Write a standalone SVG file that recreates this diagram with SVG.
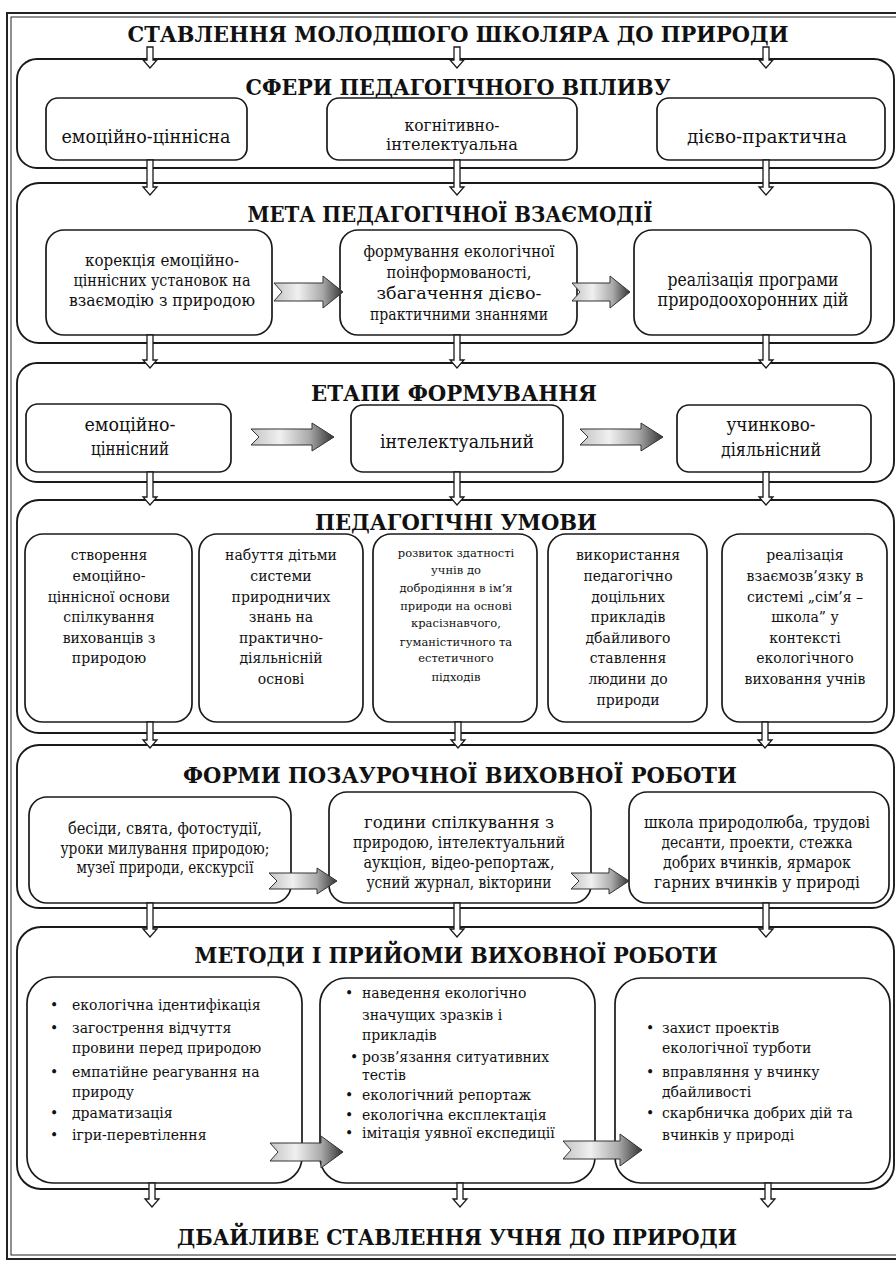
<svg xmlns="http://www.w3.org/2000/svg" width="896" height="1261" viewBox="0 0 896 1261" font-family="'DejaVu Serif', serif">
<defs>
<style>
.frame{fill:none;stroke:#222;}
.row{fill:none;stroke:#1a1a1a;stroke-width:1.9;}
.box{fill:#fff;stroke:#1a1a1a;stroke-width:1.7;}
.h{font-weight:bold;fill:#111;text-anchor:middle;font-size:23px;}
.t{fill:#111;text-anchor:middle;}
.c{fill:#111;text-anchor:middle;}
.l{fill:#111;font-size:14px;}
.va{fill:#fff;stroke:#1a1a1a;stroke-width:1.3;}
.ha{fill:url(#hg);stroke:#333;stroke-width:1;}
</style>
<linearGradient id="hg" x1="0" y1="0" x2="1" y2="0">
<stop offset="0" stop-color="#c4c4c4"/>
<stop offset="0.35" stop-color="#f0f0f0"/>
<stop offset="0.7" stop-color="#aaaaaa"/>
<stop offset="1" stop-color="#333333"/>
</linearGradient>
</defs>
<rect width="896" height="1261" fill="#fff"/>
<g id="frame">
<rect class="frame" x="7" y="13" width="900" height="1246" stroke-width="2"/>
<rect class="frame" x="11" y="17" width="892" height="1238" stroke-width="1"/>
</g>

<g id="title"><text class="h" x="458" y="42" textLength="661" lengthAdjust="spacingAndGlyphs">СТАВЛЕННЯ МОЛОДШОГО ШКОЛЯРА ДО ПРИРОДИ</text></g>

<g id="row1">
<rect class="row" x="17" y="59" width="877" height="109" rx="20"/>
<text class="h" x="458" y="95" textLength="425" lengthAdjust="spacingAndGlyphs">СФЕРИ ПЕДАГОГІЧНОГО ВПЛИВУ</text>
<g id="r1b1"><rect class="box" x="46" y="98" width="201" height="62" rx="12"/><text class="c" x="146" y="143" font-size="19" textLength="169" lengthAdjust="spacingAndGlyphs">емоційно-ціннісна</text></g>
<g id="r1b2"><rect class="box" x="327" y="98" width="250" height="62" rx="12"/><text class="c" x="452" y="131" font-size="17" textLength="95" lengthAdjust="spacingAndGlyphs">когнітивно-</text><text class="c" x="452" y="150" font-size="17" textLength="132" lengthAdjust="spacingAndGlyphs">інтелектуальна</text></g>
<g id="r1b3"><rect class="box" x="657" y="98" width="228" height="62" rx="12"/><text class="c" x="767" y="143" font-size="19" textLength="160" lengthAdjust="spacingAndGlyphs">дієво-практична</text></g>
</g>

<g id="row2">
<rect class="row" x="17" y="183" width="877" height="160" rx="22"/>
<text class="h" x="450" y="222" textLength="405" lengthAdjust="spacingAndGlyphs">МЕТА ПЕДАГОГІЧНОЇ ВЗАЄМОДІЇ</text>
<g id="r2b1"><rect class="box" x="46" y="230" width="226" height="105" rx="18"/><text class="c" x="162" y="266" font-size="17" textLength="154" lengthAdjust="spacingAndGlyphs">корекція емоційно-</text><text class="c" x="162" y="286" font-size="17" textLength="177" lengthAdjust="spacingAndGlyphs">ціннісних установок на</text><text class="c" x="162" y="306" font-size="17" textLength="186" lengthAdjust="spacingAndGlyphs">взаємодію з природою</text></g>
<g id="r2b2"><rect class="box" x="340" y="230" width="237" height="105" rx="18"/><text class="c" x="459" y="257" font-size="16" textLength="191" lengthAdjust="spacingAndGlyphs">формування екологічної</text><text class="c" x="459" y="278" font-size="16" textLength="145" lengthAdjust="spacingAndGlyphs">поінформованості,</text><text class="c" x="459" y="299" font-size="16" textLength="165" lengthAdjust="spacingAndGlyphs">збагачення дієво-</text><text class="c" x="459" y="320" font-size="16" textLength="178" lengthAdjust="spacingAndGlyphs">практичними знаннями</text></g>
<g id="r2b3"><rect class="box" x="634" y="230" width="237" height="105" rx="18"/><text class="c" x="753" y="286" font-size="18" textLength="171" lengthAdjust="spacingAndGlyphs">реалізація програми</text><text class="c" x="753" y="306" font-size="18" textLength="191" lengthAdjust="spacingAndGlyphs">природоохоронних дій</text></g>
</g>

<g id="row3">
<rect class="row" x="17" y="363" width="877" height="119" rx="20"/>
<text class="h" x="454" y="401" textLength="286" lengthAdjust="spacingAndGlyphs">ЕТАПИ ФОРМУВАННЯ</text>
<g id="r3b1"><rect class="box" x="26" y="404" width="205" height="68" rx="12"/><text class="c" x="130" y="431" font-size="18.5" textLength="91" lengthAdjust="spacingAndGlyphs">емоційно-</text><text class="c" x="130" y="455" font-size="18.5" textLength="78" lengthAdjust="spacingAndGlyphs">ціннісний</text></g>
<g id="r3b2"><rect class="box" x="351" y="405" width="212" height="67" rx="12"/><text class="c" x="457" y="448" font-size="18.5" textLength="154" lengthAdjust="spacingAndGlyphs">інтелектуальний</text></g>
<g id="r3b3"><rect class="box" x="677" y="405" width="194" height="67" rx="12"/><text class="c" x="771" y="431" font-size="18.5" textLength="89" lengthAdjust="spacingAndGlyphs">учинково-</text><text class="c" x="771" y="456" font-size="18.5" textLength="100" lengthAdjust="spacingAndGlyphs">діяльнісний</text></g>
</g>

<g id="row4">
<rect class="row" x="17" y="500" width="877" height="233" rx="22"/>
<text class="h" x="456" y="530" textLength="282" lengthAdjust="spacingAndGlyphs">ПЕДАГОГІЧНІ УМОВИ</text>
<g id="r4b1"><rect class="box" x="25" y="534" width="167" height="188" rx="18"/>
<text class="t" font-size="14" x="109" y="560">створення</text><text class="t" font-size="14" x="109" y="581">емоційно-</text><text class="t" font-size="14" x="109" y="602">ціннісної основи</text><text class="t" font-size="14" x="109" y="622">спілкування</text><text class="t" font-size="14" x="109" y="643">вихованців з</text><text class="t" font-size="14" x="109" y="663">природою</text></g>
<g id="r4b2"><rect class="box" x="199" y="534" width="164" height="188" rx="18"/>
<text class="t" font-size="14" x="281" y="560">набуття дітьми</text><text class="t" font-size="14" x="281" y="581">системи</text><text class="t" font-size="14" x="281" y="602">природничих</text><text class="t" font-size="14" x="281" y="622">знань на</text><text class="t" font-size="14" x="281" y="643">практично-</text><text class="t" font-size="14" x="281" y="663">діяльнісній</text><text class="t" font-size="14" x="281" y="684">основі</text></g>
<g id="r4b3"><rect class="box" x="373" y="534" width="164" height="188" rx="18"/>
<text class="t" font-size="11.5" x="456" y="557">розвиток здатності</text><text class="t" font-size="11.5" x="456" y="574">учнів до</text><text class="t" font-size="11.5" x="456" y="592">добродіяння в ім’я</text><text class="t" font-size="11.5" x="456" y="610">природи на основі</text><text class="t" font-size="11.5" x="456" y="627">красізнавчого,</text><text class="t" font-size="11.5" x="456" y="646">гуманістичного  та</text><text class="t" font-size="11.5" x="456" y="662">естетичного</text><text class="t" font-size="11.5" x="456" y="681">підходів</text></g>
<g id="r4b4"><rect class="box" x="548" y="534" width="159" height="188" rx="18"/>
<text class="t" font-size="14" x="628" y="560">використання</text><text class="t" font-size="14" x="628" y="581">педагогічно</text><text class="t" font-size="14" x="628" y="602">доцільних</text><text class="t" font-size="14" x="628" y="622">прикладів</text><text class="t" font-size="14" x="628" y="643">дбайливого</text><text class="t" font-size="14" x="628" y="663">ставлення</text><text class="t" font-size="14" x="628" y="684">людини до</text><text class="t" font-size="14" x="628" y="705">природи</text></g>
<g id="r4b5"><rect class="box" x="722" y="534" width="165" height="188" rx="18"/>
<text class="t" font-size="14" x="805" y="560">реалізація</text><text class="t" font-size="14" x="805" y="581">взаємозв’язку в</text><text class="t" font-size="14" x="805" y="602">системі „сім’я –</text><text class="t" font-size="14" x="805" y="622">школа” у</text><text class="t" font-size="14" x="805" y="643">контексті</text><text class="t" font-size="14" x="805" y="663">екологічного</text><text class="t" font-size="14" x="805" y="684">виховання учнів</text></g>
</g>

<g id="row5">
<rect class="row" x="17" y="745" width="877" height="163" rx="22"/>
<text class="h" x="460" y="783" textLength="554" lengthAdjust="spacingAndGlyphs">ФОРМИ ПОЗАУРОЧНОЇ ВИХОВНОЇ РОБОТИ</text>
<g id="r5b1"><rect class="box" x="29" y="797" width="262" height="106" rx="18"/><text class="c" x="165" y="834" font-size="16.5" textLength="194" lengthAdjust="spacingAndGlyphs">бесіди, свята, фотостудії,</text><text class="c" x="165" y="854" font-size="16.5" textLength="209" lengthAdjust="spacingAndGlyphs">уроки милування природою;</text><text class="c" x="165" y="873" font-size="16.5" textLength="177" lengthAdjust="spacingAndGlyphs">музеї природи, екскурсії</text></g>
<g id="r5b2"><rect class="box" x="329" y="792" width="262" height="111" rx="18"/><text class="c" x="459" y="828" font-size="16.5" textLength="190" lengthAdjust="spacingAndGlyphs">години спілкування з</text><text class="c" x="459" y="848" font-size="16.5" textLength="212" lengthAdjust="spacingAndGlyphs">природою, інтелектуальний</text><text class="c" x="459" y="868" font-size="16.5" textLength="191" lengthAdjust="spacingAndGlyphs">аукціон, відео-репортаж,</text><text class="c" x="459" y="888" font-size="16.5" textLength="185" lengthAdjust="spacingAndGlyphs">усний журнал, вікторини</text></g>
<g id="r5b3"><rect class="box" x="629" y="792" width="260" height="111" rx="18"/><text class="c" x="757" y="828" font-size="16.5" textLength="226" lengthAdjust="spacingAndGlyphs">школа природолюба, трудові</text><text class="c" x="757" y="848" font-size="16.5" textLength="191" lengthAdjust="spacingAndGlyphs">десанти, проекти, стежка</text><text class="c" x="757" y="868" font-size="16.5" textLength="188" lengthAdjust="spacingAndGlyphs">добрих вчинків, ярмарок</text><text class="c" x="757" y="888" font-size="16.5" textLength="206" lengthAdjust="spacingAndGlyphs">гарних вчинків у природі</text></g>
</g>

<g id="row6">
<rect class="row" x="17" y="927" width="877" height="262" rx="24"/>
<text class="h" x="456" y="963" textLength="523" lengthAdjust="spacingAndGlyphs">МЕТОДИ І ПРИЙОМИ ВИХОВНОЇ РОБОТИ</text>
<g id="r6b1"><rect class="box" x="27" y="977" width="275" height="206" rx="26"/>
<text class="l" x="50" y="1010">•</text><text class="l" x="72" y="1010">екологічна ідентифікація</text>
<text class="l" x="50" y="1033">•</text><text class="l" x="72" y="1033">загострення відчуття</text>
<text class="l" x="72" y="1053">провини перед природою</text>
<text class="l" x="50" y="1077">•</text><text class="l" x="72" y="1077">емпатійне реагування на</text>
<text class="l" x="72" y="1097">природу</text>
<text class="l" x="50" y="1118">•</text><text class="l" x="72" y="1118">драматизація</text>
<text class="l" x="50" y="1140">•</text><text class="l" x="72" y="1140">ігри-перевтілення</text></g>
<g id="r6b2"><rect class="box" x="320" y="978" width="275" height="205" rx="26"/>
<text class="l" x="345" y="998">•</text><text class="l" x="362" y="998">наведення екологічно</text>
<text class="l" x="362" y="1020">значущих зразків і</text>
<text class="l" x="362" y="1040">прикладів</text>
<text class="l" x="350" y="1062">•</text><text class="l" x="362" y="1062">розв’язання ситуативних</text>
<text class="l" x="362" y="1080">тестів</text>
<text class="l" x="345" y="1100">•</text><text class="l" x="362" y="1100">екологічний репортаж</text>
<text class="l" x="345" y="1120">•</text><text class="l" x="362" y="1120">екологічна експлектація</text>
<text class="l" x="345" y="1138">•</text><text class="l" x="362" y="1138">імітація уявної експедиції</text></g>
<g id="r6b3"><rect class="box" x="615" y="978" width="275" height="205" rx="26"/>
<text class="l" x="646" y="1033">•</text><text class="l" x="662" y="1033">захист проектів</text>
<text class="l" x="662" y="1053">екологічної турботи</text>
<text class="l" x="646" y="1077">•</text><text class="l" x="662" y="1077">вправляння у вчинку</text>
<text class="l" x="662" y="1097">дбайливості</text>
<text class="l" x="646" y="1118">•</text><text class="l" x="662" y="1118">скарбничка добрих дій та</text>
<text class="l" x="662" y="1140">вчинків у природі</text></g>
</g>

<g id="result"><text class="h" x="457" y="1245" textLength="560" lengthAdjust="spacingAndGlyphs">ДБАЙЛИВЕ СТАВЛЕННЯ УЧНЯ ДО ПРИРОДИ</text></g>

<g id="connectors">
<path class="va" d="M147 47H153V60H157L150 68L143 60H147Z"/>
<path class="va" d="M454 47H460V60H464L457 68L450 60H454Z"/>
<path class="va" d="M763 47H769V60H773L766 68L759 60H763Z"/>
<path class="va" d="M147 160H153V187H157L150 195L143 187H147Z"/>
<path class="va" d="M454 160H460V187H464L457 195L450 187H454Z"/>
<path class="va" d="M763 160H769V187H773L766 195L759 187H763Z"/>
<path class="va" d="M147 335H153V360H157L150 368L143 360H147Z"/>
<path class="va" d="M454 335H460V360H464L457 368L450 360H454Z"/>
<path class="va" d="M763 335H769V360H773L766 368L759 360H763Z"/>
<path class="va" d="M147 472H153V497H157L150 505L143 497H147Z"/>
<path class="va" d="M454 472H460V497H464L457 505L450 497H454Z"/>
<path class="va" d="M763 472H769V497H773L766 505L759 497H763Z"/>
<path class="va" d="M147 722H153V740H157L150 748L143 740H147Z"/>
<path class="va" d="M455 722H461V740H465L458 748L451 740H455Z"/>
<path class="va" d="M762 722H768V740H772L765 748L758 740H762Z"/>
<path class="va" d="M147 903H153V929H157L150 937L143 929H147Z"/>
<path class="va" d="M454 903H460V929H464L457 937L450 929H454Z"/>
<path class="va" d="M763 903H769V929H773L766 937L759 929H763Z"/>
<path class="va" d="M149 1183H155V1199H159L152 1207L145 1199H149Z"/>
<path class="va" d="M457 1183H463V1199H467L460 1207L453 1199H457Z"/>
<path class="va" d="M765 1183H771V1199H775L768 1207L761 1199H765Z"/>
<path class="ha" d="M274 283H323V276L343 292L323 308V301H274L282 292Z"/>
<path class="ha" d="M572 283H610V276L630 292L610 308V301H572L580 292Z"/>
<path class="ha" d="M251 429H312V423L334 437L312 451V445H251L259 437Z"/>
<path class="ha" d="M580 429H641V423L663 437L641 451V445H580L588 437Z"/>
<path class="ha" d="M269 873H317V868L337 881L317 894V889H269L277 881Z"/>
<path class="ha" d="M571 873H609V868L629 881L609 894V889H571L579 881Z"/>
<path class="ha" d="M270 1143H321V1136L343 1152L321 1168V1161H270L278 1152Z"/>
<path class="ha" d="M563 1141H620V1134L642 1150L620 1166V1159H563L571 1150Z"/>
</g>
</svg>
